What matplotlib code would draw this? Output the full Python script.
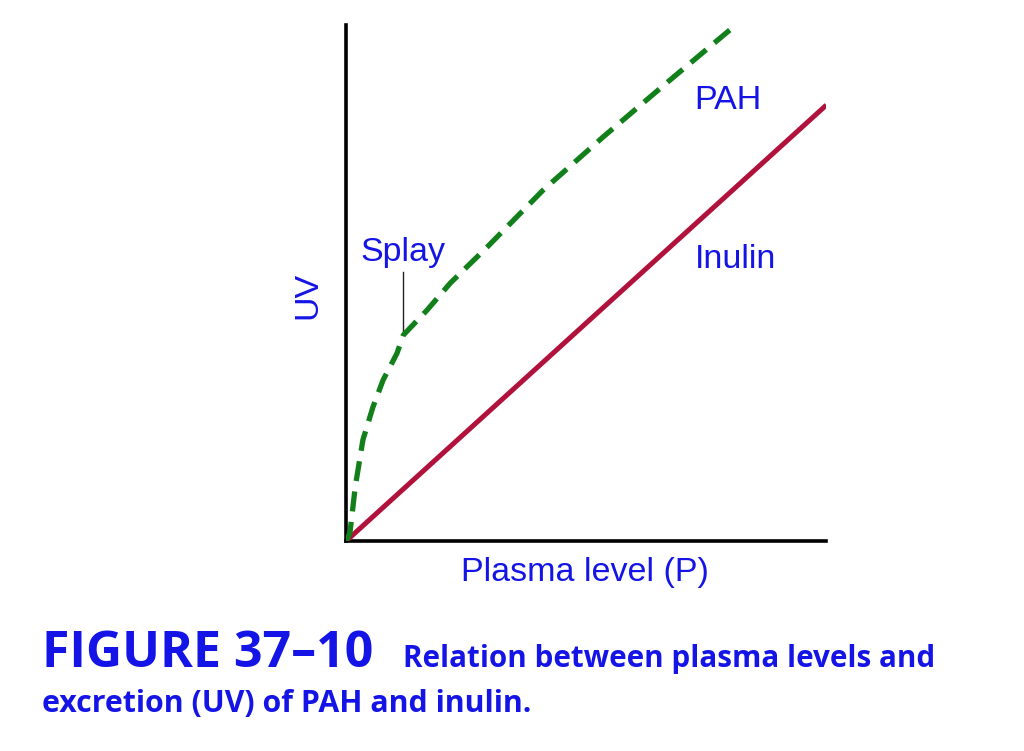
import matplotlib
matplotlib.use('Agg')
import matplotlib.pyplot as plt

# curves (arbitrary units)
inulin_x = [0.0, 10.0]
inulin_y = [0.0, 8.45]

pah_x = [0.0, 0.08, 0.19, 0.35, 0.56, 0.77, 1.06, 1.19, 1.69, 2.17, 2.94, 4.10, 5.35, 6.70, 8.06]
pah_y = [0.0, 0.16, 1.05, 1.96, 2.60, 3.12, 3.64, 3.99, 4.48, 5.00, 5.70, 6.80, 7.83, 8.90, 9.96]

splay_x = 1.19
splay_y = (3.99, 5.21)

BLUE = '#1414e6'
LABEL_FONT = ['Liberation Sans', 'DejaVu Sans']

fig = plt.figure(figsize=(10.24, 7.51), dpi=100)
ax = fig.add_axes([0.338, 0.2796, 0.469, 0.687])

ax.plot(inulin_x, inulin_y, color='#b0123c', lw=3.6, solid_capstyle='butt', zorder=3)
ax.plot(pah_x, pah_y, color='#12801a', lw=3.8, dashes=(3.8, 2.0), zorder=4)
ax.plot([splay_x, splay_x], splay_y, color='#222222', lw=1.0)

ax.set_xlim(0, 10)
ax.set_ylim(0, 10)
ax.set_xticks([])
ax.set_yticks([])
for side in ('top', 'right'):
    ax.spines[side].set_visible(False)
for side in ('left', 'bottom'):
    ax.spines[side].set_linewidth(2.6)
    ax.spines[side].set_color('black')

txt = dict(color=BLUE, fontsize=24.5, family=LABEL_FONT)
ax.text(splay_x, 5.6, 'Splay', ha='center', va='center', **txt)
ax.text(7.95, 8.53, 'PAH', ha='center', va='center', **txt)
ax.text(8.1, 5.45, 'Inulin', ha='center', va='center', **txt)
fig.text(308 / 1024, 1 - 295 / 751, 'UV', rotation=90, ha='center', va='center', **txt)
fig.text(585 / 1024, 1 - 573 / 751, 'Plasma level (P)', ha='center', va='center', **txt)

cap = ['Open Sans', 'DejaVu Sans']
fig.text(42 / 1024, 1 - 667 / 751, 'FIGURE 37\u201310', color=BLUE, fontsize=36,
         fontweight='bold', family=cap, ha='left', va='baseline')
fig.text(403 / 1024, 1 - 667 / 751, 'Relation between plasma levels and', color=BLUE,
         fontsize=21.3, fontweight='bold', family=cap, ha='left', va='baseline')
fig.text(42 / 1024, 1 - 712 / 751, 'excretion (UV) of PAH and inulin.', color=BLUE,
         fontsize=21.8, fontweight='bold', family=cap, ha='left', va='baseline')

fig.savefig('out.png', dpi=100, facecolor='white')
